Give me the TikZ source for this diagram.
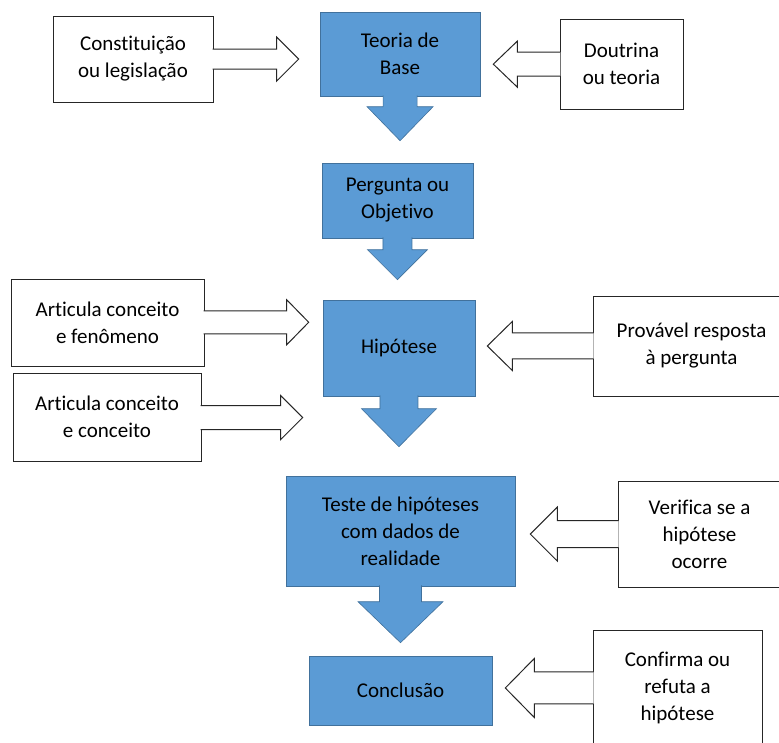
\documentclass[tikz,border=0pt]{standalone}
\usepackage{fontspec}
\setmainfont{Carlito}[Ligatures=NoCommon]
\usetikzlibrary{calc}
\definecolor{flowblue}{HTML}{5B9BD5}
\definecolor{flowedge}{HTML}{41719C}

\tikzset{
  flowbox/.style={draw=flowedge, line width=0.6pt, fill=flowblue, inner sep=0pt,
    align=center, font=\fontsize{21}{27}\selectfont},
  notebox/.style={draw=black!85, line width=1pt, fill=white, inner sep=0pt,
    align=center, font=\fontsize{21}{27}\selectfont},
  sidestep/.style={draw=black!85, line width=1pt, fill=white, line join=miter},
  flowstep/.style={draw=flowedge, line width=0.6pt, fill=flowblue}
}

% white block arrow: start, tip, shaft half width, head half width, head length (signed)
\newcommand{\sidearrow}[5]{%
  \filldraw[sidestep] let \p2=#2, \p1=($#1!-1pt!(\x2,\y2)$), \n1={\x2-(#5)} in
    (\x1,{\y1+#3}) -- (\n1,{\y1+#3}) -- (\n1,{\y1+#4}) -- (\x2,\y1)
    -- (\n1,{\y1-#4}) -- (\n1,{\y1-#3}) -- (\x1,{\y1-#3});
}
% blue block arrow pointing down: start, tip, shaft half width, head half width, head length
\newcommand{\flowarrow}[5]{%
  \filldraw[flowstep] let \p2=#2, \p1=($#1!-1pt!(\x2,\y2)$), \n1={\y2+#5} in
    ({\x1-#3},\y1) -- ({\x1-#3},\n1) -- ({\x1-#4},\n1) -- (\x1,\y2)
    -- ({\x1+#4},\n1) -- ({\x1+#3},\n1) -- ({\x1+#3},\y1);
}

\begin{document}
\begin{tikzpicture}[x=1pt, y=-1pt]
  \useasboundingbox (0,0) rectangle (779,742);
  \clip (0,0) rectangle (779,742);

  % main column
  \node[flowbox, minimum width=160pt, minimum height=84pt] (teoria) at (400,54) {Teoria de\\Base};
  \node[flowbox, minimum width=151pt, minimum height=75pt] (pergunta) at (397.5,200.5) {Pergunta ou\\Objetivo};
  \node[flowbox, minimum width=152pt, minimum height=96pt] (hipotese) at (399,348) {Hip\'otese};
  \node[flowbox, minimum width=229pt, minimum height=110pt] (teste) at (400.5,531) {Teste de hip\'oteses\\com dados de\\realidade};
  \node[flowbox, minimum width=183pt, minimum height=69pt] (conclusao) at (400.5,690.5) {Conclus\~ao};

  % side notes
  \node[notebox, minimum width=160pt, minimum height=86pt] (constit) at (133,59) {Constitui\c{c}\~ao\\ou legisla\c{c}\~ao};
  \node[notebox, minimum width=123pt, minimum height=90pt] (doutrina) at (621.5,64) {Doutrina\\ou teoria};
  \node[notebox, minimum width=193pt, minimum height=87pt] (artfen) at (107.5,322.5) {Articula conceito\\e fen\^omeno};
  \node[notebox, minimum width=188pt, minimum height=88pt] (artcon) at (107,417) {Articula conceito\\e conceito};
  \node[notebox, minimum width=197pt, minimum height=100pt] (provavel) at (691.5,346) {Prov\'avel resposta\\\`a pergunta};
  \node[notebox, minimum width=163pt, minimum height=106pt] (verifica) at (699.5,534) {Verifica se a\\hip\'otese\\ocorre};
  \node[notebox, minimum width=169pt, minimum height=116pt] (confirma) at (677.5,688) {Confirma ou\\refuta a\\hip\'otese};

  % flow down the column
  \flowarrow{(teoria.south)}{($(pergunta.north)+(0,-22)$)}{17pt}{33pt}{34pt}
  \flowarrow{(pergunta.south)}{($(hipotese.north)+(0,-20)$)}{14.5pt}{30pt}{30pt}
  \flowarrow{(hipotese.south)}{($(teste.north)+(0,-29)$)}{19pt}{37.5pt}{38pt}
  \flowarrow{(teste.south)}{($(conclusao.north)+(0,-13)$)}{21pt}{42.5pt}{41pt}

  % inputs from the sides
  \sidearrow{(constit.east)}{($(teoria.west)+(-21,0)$)}{10pt}{22pt}{22pt}
  \sidearrow{(doutrina.west)}{($(teoria.east)+(13,0)$)}{12pt}{23pt}{-24pt}
  \sidearrow{(artfen.east)}{($(hipotese.west)+(-14,0)$)}{11.5pt}{22.5pt}{22pt}
  \sidearrow{(artcon.east)}{($(hipotese.west)+(-20,0)$)}{12pt}{22pt}{22pt}
  \sidearrow{(provavel.west)}{($(hipotese.east)+(12,0)$)}{13pt}{24.5pt}{-25pt}
  \sidearrow{(verifica.west)}{($(teste.east)+(15,0)$)}{13.5pt}{27pt}{-27pt}
  \sidearrow{(confirma.west)}{($(conclusao.east)+(13,0)$)}{16pt}{29.5pt}{-29pt}
\end{tikzpicture}
\end{document}
